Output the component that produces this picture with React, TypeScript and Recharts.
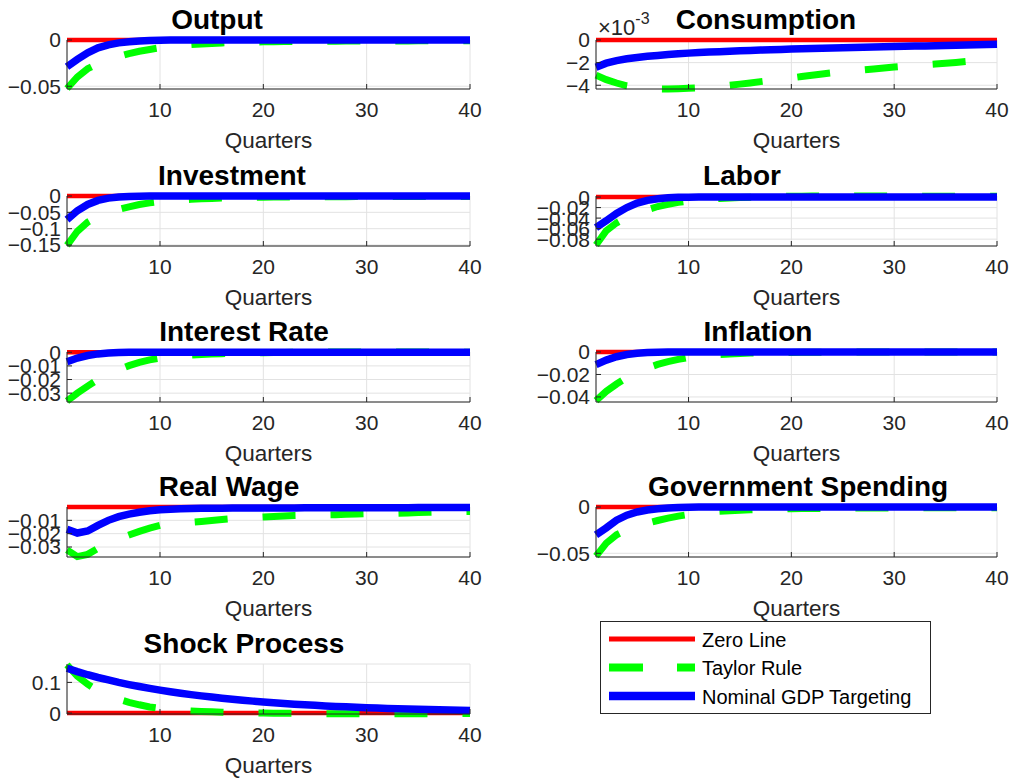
import React from "react";
import { LineChart, Line, XAxis, YAxis, CartesianGrid } from "recharts";

// quarters after the shock
const QUARTERS = [
  1, 2, 3, 4, 5, 6, 7, 8, 9, 10, 11, 12, 13, 14, 15, 16, 17, 18, 19, 20,
  21, 22, 23, 24, 25, 26, 27, 28, 29, 30, 31, 32, 33, 34, 35, 36, 37, 38, 39, 40,
];

const ZERO_LINE = [
  0, 0, 0, 0, 0, 0, 0, 0, 0, 0, 0, 0, 0, 0, 0, 0, 0, 0, 0, 0,
  0, 0, 0, 0, 0, 0, 0, 0, 0, 0, 0, 0, 0, 0, 0, 0, 0, 0, 0, 0,
];

// impulse responses: taylor = Taylor Rule, ngdp = Nominal GDP Targeting
const outputTaylor = [
  -0.0525, -0.04, -0.031, -0.0255, -0.021, -0.0178, -0.0148, -0.0122, -0.0102, -0.0084,
  -0.007, -0.0059, -0.005, -0.0043, -0.0037, -0.0032, -0.0028, -0.0025, -0.0022, -0.002,
  -0.0018, -0.0017, -0.0016, -0.0015, -0.0014, -0.0013, -0.0013, -0.0012, -0.0012, -0.0011,
  -0.0011, -0.001, -0.001, -0.001, -0.0009, -0.0009, -0.0009, -0.0008, -0.0008, -0.0008,
];
const outputNgdp = [
  -0.029, -0.021, -0.0138, -0.0085, -0.0052, -0.0031, -0.0018, -0.001, -0.0005, -0.0002,
  -0.0001, 0, 0, 0, 0, 0, 0, 0, 0, 0,
  0, 0, 0, 0, 0, 0, 0, 0, 0, 0,
  0, 0, 0, 0, 0, 0, 0, 0, 0, 0,
];

const consumptionTaylor = [
  -0.0031, -0.0035, -0.0038, -0.00405, -0.0042, -0.00428, -0.00432, -0.00433, -0.0043, -0.00427,
  -0.00422, -0.00415, -0.00408, -0.004, -0.0039, -0.0038, -0.00368, -0.00357, -0.00346, -0.00335,
  -0.00323, -0.00312, -0.003, -0.0029, -0.00281, -0.00272, -0.00264, -0.00256, -0.00247, -0.00238,
  -0.00231, -0.00224, -0.00218, -0.00212, -0.00205, -0.00198, -0.0019, -0.00182, -0.00174, -0.00166,
];
const consumptionNgdp = [
  -0.0024, -0.00205, -0.00182, -0.00166, -0.00154, -0.00144, -0.00136, -0.00129, -0.00122, -0.00116,
  -0.00111, -0.00107, -0.00103, -0.00099, -0.00095, -0.00092, -0.00089, -0.00086, -0.00083, -0.0008,
  -0.00077, -0.00075, -0.00072, -0.0007, -0.00068, -0.00066, -0.00064, -0.00062, -0.0006, -0.00058,
  -0.00056, -0.00054, -0.00052, -0.0005, -0.00048, -0.00046, -0.00044, -0.00042, -0.0004, -0.00038,
];

const investmentTaylor = [
  -0.151, -0.108, -0.08, -0.062, -0.05, -0.041, -0.033, -0.026, -0.021, -0.017,
  -0.014, -0.0118, -0.01, -0.0086, -0.0074, -0.0064, -0.0056, -0.0049, -0.0043, -0.0038,
  -0.0034, -0.0031, -0.0028, -0.0026, -0.0024, -0.0022, -0.0021, -0.002, -0.0019, -0.0018,
  -0.0017, -0.0016, -0.0015, -0.0015, -0.0014, -0.0014, -0.0013, -0.0013, -0.0012, -0.0012,
];
const investmentNgdp = [
  -0.072, -0.045, -0.026, -0.0135, -0.0065, -0.003, -0.0013, -0.0005, -0.0002, -0.0001,
  0, 0, 0, 0, 0, 0, 0, 0, 0, 0,
  0, 0, 0, 0, 0, 0, 0, 0, 0, 0,
  0, 0, 0, 0, 0, 0, 0, 0, 0, 0,
];

const laborTaylor = [
  -0.091, -0.064, -0.049, -0.038, -0.03, -0.024, -0.018, -0.014, -0.01, -0.0075,
  -0.0055, -0.004, -0.0028, -0.0018, -0.001, -0.0003, 0.0003, 0.0008, 0.0012, 0.0015,
  0.0017, 0.0019, 0.002, 0.002, 0.002, 0.002, 0.002, 0.0019, 0.0019, 0.0019,
  0.0018, 0.0018, 0.0017, 0.0017, 0.0016, 0.0016, 0.0015, 0.0015, 0.0014, 0.0014,
];
const laborNgdp = [
  -0.058, -0.045, -0.031, -0.02, -0.0115, -0.0062, -0.0032, -0.0015, -0.0006, -0.0002,
  0, 0, 0, 0, 0, 0, 0, 0, 0, 0,
  0, 0, 0, 0, 0, 0, 0, 0, 0, 0,
  0, 0, 0, 0, 0, 0, 0, 0, 0, 0,
];

const interestTaylor = [
  -0.0358, -0.03, -0.0248, -0.02, -0.0162, -0.0128, -0.0098, -0.0074, -0.0056, -0.0043,
  -0.0033, -0.0026, -0.002, -0.0016, -0.0013, -0.001, -0.0008, -0.0006, -0.0004, -0.0003,
  -0.0002, -0.0001, 0, 0.0001, 0.0001, 0.0002, 0.0002, 0.0002, 0.0002, 0.0002,
  0.0002, 0.0002, 0.0002, 0.0002, 0.0002, 0.0002, 0.0001, 0.0001, 0.0001, 0.0001,
];
const interestNgdp = [
  -0.007, -0.0042, -0.0024, -0.0012, -0.0006, -0.0002, 0, 0.0001, 0.0001, 0.0001,
  0.0001, 0.0001, 0, 0, 0, 0, 0, 0, 0, 0,
  0, 0, 0, 0, 0, 0, 0, 0, 0, 0,
  0, 0, 0, 0, 0, 0, 0, 0, 0, 0,
];

const inflationTaylor = [
  -0.0433, -0.035, -0.0285, -0.0228, -0.018, -0.0142, -0.0111, -0.0086, -0.0066, -0.005,
  -0.0038, -0.0029, -0.0022, -0.0017, -0.0013, -0.001, -0.0008, -0.0006, -0.0005, -0.0004,
  -0.0003, -0.0002, -0.0002, -0.0001, -0.0001, -0.0001, 0, 0, 0, 0,
  0, 0, 0, 0, 0, 0, 0, 0, 0, 0,
];
const inflationNgdp = [
  -0.0112, -0.0072, -0.0042, -0.0022, -0.0011, -0.0005, -0.0002, -0.0001, 0, 0,
  0, 0, 0, 0, 0, 0, 0, 0, 0, 0,
  0, 0, 0, 0, 0, 0, 0, 0, 0, 0,
  0, 0, 0, 0, 0, 0, 0, 0, 0, 0,
];

const realWageTaylor = [
  -0.0322, -0.0372, -0.0355, -0.031, -0.0272, -0.0238, -0.021, -0.0183, -0.0158, -0.0138,
  -0.0128, -0.012, -0.0114, -0.0108, -0.0101, -0.0094, -0.0088, -0.0083, -0.0079, -0.0075,
  -0.0071, -0.0067, -0.0064, -0.0062, -0.006, -0.0059, -0.0058, -0.0055, -0.0052, -0.005,
  -0.0049, -0.0048, -0.0047, -0.0045, -0.0042, -0.004, -0.0038, -0.0036, -0.0035, -0.0034,
];
const realWageNgdp = [
  -0.0167, -0.0195, -0.018, -0.0138, -0.01, -0.0072, -0.0053, -0.0039, -0.0028, -0.0021,
  -0.0016, -0.0013, -0.0011, -0.001, -0.0009, -0.0009, -0.0008, -0.0008, -0.0008, -0.0007,
  -0.0007, -0.0007, -0.0007, -0.0006, -0.0006, -0.0006, -0.0006, -0.0006, -0.0005, -0.0005,
  -0.0005, -0.0005, -0.0005, -0.0005, -0.0004, -0.0004, -0.0004, -0.0004, -0.0004, -0.0004,
];

const govTaylor = [
  -0.053, -0.039, -0.03, -0.0245, -0.0205, -0.0175, -0.0146, -0.012, -0.0098, -0.0081,
  -0.0067, -0.0056, -0.0047, -0.004, -0.0035, -0.003, -0.0026, -0.0023, -0.0021, -0.0019,
  -0.0017, -0.0016, -0.0015, -0.0014, -0.0013, -0.0012, -0.0012, -0.0011, -0.0011, -0.001,
  -0.001, -0.001, -0.0009, -0.0009, -0.0009, -0.0008, -0.0008, -0.0008, -0.0008, -0.0007,
];
const govNgdp = [
  -0.03, -0.0225, -0.0142, -0.0088, -0.0054, -0.0032, -0.0019, -0.0011, -0.0006, -0.0003,
  -0.0001, 0, 0, 0, 0, 0, 0, 0, 0, 0,
  0, 0, 0, 0, 0, 0, 0, 0, 0, 0,
  0, 0, 0, 0, 0, 0, 0, 0, 0, 0,
];

const shockTaylor = [
  0.157, 0.12, 0.094, 0.073, 0.057, 0.045, 0.035, 0.027, 0.02, 0.0155,
  0.0115, 0.0088, 0.0067, 0.0052, 0.004, 0.003, 0.002, 0.0012, 0.0006, 0.0002,
  -0.0002, -0.0006, -0.001, -0.0013, -0.0016, -0.0019, -0.0021, -0.0023, -0.0024, -0.0025,
  -0.0025, -0.0025, -0.0024, -0.0023, -0.0022, -0.0021, -0.002, -0.0019, -0.0018, -0.0017,
];
const shockNgdp = [
  0.146, 0.135, 0.125, 0.116, 0.108, 0.1, 0.093, 0.0865, 0.0805, 0.0748,
  0.0696, 0.0647, 0.0602, 0.056, 0.0521, 0.0484, 0.045, 0.0419, 0.039, 0.0362,
  0.0337, 0.0313, 0.0291, 0.0271, 0.0252, 0.0234, 0.0218, 0.0203, 0.0189, 0.0175,
  0.0163, 0.0152, 0.0141, 0.0131, 0.0122, 0.0113, 0.0105, 0.0098, 0.0091, 0.0085,
];

const X_TICKS = [10, 20, 30, 40];
const INK = "#262626";
const RED = "#ff0000";
const GREEN = "#00ff00";
const BLUE = "#0000ff";

const minus = (s: string) => s.replace("-", "\u2212");
const fmt = (v: number) => minus(String(v));
const fmtMilli = (v: number) => minus(String(Math.round(v * 1000)));

// subplot grid (MATLAB-ish positions)
const COLS = [
  { left: 0, width: 500, axisW: 67, right: 30 },
  { left: 520, width: 497, axisW: 76, right: 20 },
];
const ROW_TOPS = [40, 196, 352, 507, 664];
const ROW_H = [49, 50, 50, 50, 50];
const PAD_TOP = 16;

type PanelDef = {
  title: string;
  titleX: number;
  col: number;
  row: number;
  taylor: number[];
  ngdp: number[];
  domain: [number, number];
  ticks: number[];
  format?: (v: number) => string;
};

const PANELS: PanelDef[] = [
  { title: "Output", titleX: 217, col: 0, row: 0, taylor: outputTaylor, ngdp: outputNgdp, domain: [-0.053, 0], ticks: [-0.05, 0] },
  { title: "Consumption", titleX: 766, col: 1, row: 0, taylor: consumptionTaylor, ngdp: consumptionNgdp, domain: [-0.0043, 0], ticks: [-0.004, -0.002, 0], format: fmtMilli },
  { title: "Investment", titleX: 232, col: 0, row: 1, taylor: investmentTaylor, ngdp: investmentNgdp, domain: [-0.153, 0], ticks: [-0.15, -0.1, -0.05, 0] },
  { title: "Labor", titleX: 742, col: 1, row: 1, taylor: laborTaylor, ngdp: laborNgdp, domain: [-0.093, 0], ticks: [-0.08, -0.06, -0.04, -0.02, 0] },
  { title: "Interest Rate", titleX: 244, col: 0, row: 2, taylor: interestTaylor, ngdp: interestNgdp, domain: [-0.0365, 0], ticks: [-0.03, -0.02, -0.01, 0] },
  { title: "Inflation", titleX: 758, col: 1, row: 2, taylor: inflationTaylor, ngdp: inflationNgdp, domain: [-0.0445, 0], ticks: [-0.04, -0.02, 0] },
  { title: "Real Wage", titleX: 229, col: 0, row: 3, taylor: realWageTaylor, ngdp: realWageNgdp, domain: [-0.0375, 0], ticks: [-0.03, -0.02, -0.01] },
  { title: "Government Spending", titleX: 798, col: 1, row: 3, taylor: govTaylor, ngdp: govNgdp, domain: [-0.054, 0], ticks: [-0.05, 0] },
  { title: "Shock Process", titleX: 244, col: 0, row: 4, taylor: shockTaylor, ngdp: shockNgdp, domain: [-0.003, 0.16], ticks: [0, 0.1] },
];

function Panel({ p }: { p: PanelDef }) {
  const col = COLS[p.col];
  const plotH = ROW_H[p.row];
  const data = QUARTERS.map((q, i) => ({ q, zero: ZERO_LINE[i], taylor: p.taylor[i], ngdp: p.ngdp[i] }));
  const tickStyle = { fill: INK, fontSize: 21 };
  return (
    <div style={{ position: "absolute", left: col.left, top: ROW_TOPS[p.row] - PAD_TOP }}>
      <LineChart width={col.width} height={PAD_TOP + plotH + 66} data={data} margin={{ top: PAD_TOP, right: col.right, bottom: 4, left: 0 }}>
        <CartesianGrid stroke="#e2e2e2" strokeWidth={1} />
        <XAxis
          dataKey="q"
          type="number"
          domain={[1, 40]}
          ticks={X_TICKS}
          interval={0}
          height={62}
          tickSize={-5}
          tickMargin={18}
          stroke={INK}
          tick={tickStyle}
          label={{ value: "Quarters", position: "insideBottom", offset: 3, fill: INK, fontSize: 22.5 }}
        />
        <XAxis xAxisId="top" orientation="top" dataKey="q" type="number" domain={[1, 40]} ticks={X_TICKS} height={0} tickSize={-5} tick={false} stroke={INK} />
        <YAxis
          type="number"
          domain={p.domain}
          ticks={p.ticks}
          interval={0}
          width={col.axisW}
          tickSize={-5}
          tickMargin={11}
          stroke={INK}
          tick={tickStyle}
          tickFormatter={p.format ?? fmt}
        />
        <YAxis yAxisId="right" orientation="right" type="number" domain={p.domain} ticks={p.ticks} width={0} tickSize={-5} tick={false} stroke={INK} />
        <Line type="linear" dataKey="zero" stroke={RED} strokeWidth={4.5} dot={false} isAnimationActive={false} />
        <Line type="linear" dataKey="taylor" stroke={GREEN} strokeWidth={7} strokeDasharray="33 35" dot={false} isAnimationActive={false} />
        <Line type="linear" dataKey="ngdp" stroke={BLUE} strokeWidth={7.5} dot={false} isAnimationActive={false} />
      </LineChart>
    </div>
  );
}

const LEGEND = [
  { label: "Zero Line", color: RED, width: 5, dash: undefined },
  { label: "Taylor Rule", color: GREEN, width: 8, dash: "34 34" },
  { label: "Nominal GDP Targeting", color: BLUE, width: 8.5, dash: undefined },
];

export default function App() {
  return (
    <div
      style={{
        position: "absolute",
        left: 0,
        top: 0,
        width: 1017,
        height: 778,
        background: "#fff",
        fontFamily: '"Liberation Sans", Arial, Helvetica, sans-serif',
      }}
    >
      {PANELS.map((p) => (
        <Panel key={p.title} p={p} />
      ))}
      <svg width={1017} height={778} style={{ position: "absolute", left: 0, top: 0, pointerEvents: "none" }}>
        {PANELS.map((p) => (
          <text key={p.title} x={p.titleX} y={ROW_TOPS[p.row] - 11} textAnchor="middle" fontSize={28} fontWeight="bold" fill="#000">
            {p.title}
          </text>
        ))}
        <text x={598} y={35} fontSize={22} fill={INK}>
          ×10
          <tspan dy={-11} fontSize={16}>
            -3
          </tspan>
        </text>
        <rect x={600.5} y={621.5} width={330} height={92} fill="#fff" stroke={INK} strokeWidth={1} />
        {LEGEND.map((e, i) => {
          const y = 639 + i * 28.5;
          return (
            <g key={e.label}>
              <line x1={609} x2={695} y1={y} y2={y} stroke={e.color} strokeWidth={e.width} strokeDasharray={e.dash} />
              <text x={702} y={y + 7.5} fontSize={20} fill="#000">
                {e.label}
              </text>
            </g>
          );
        })}
      </svg>
    </div>
  );
}
